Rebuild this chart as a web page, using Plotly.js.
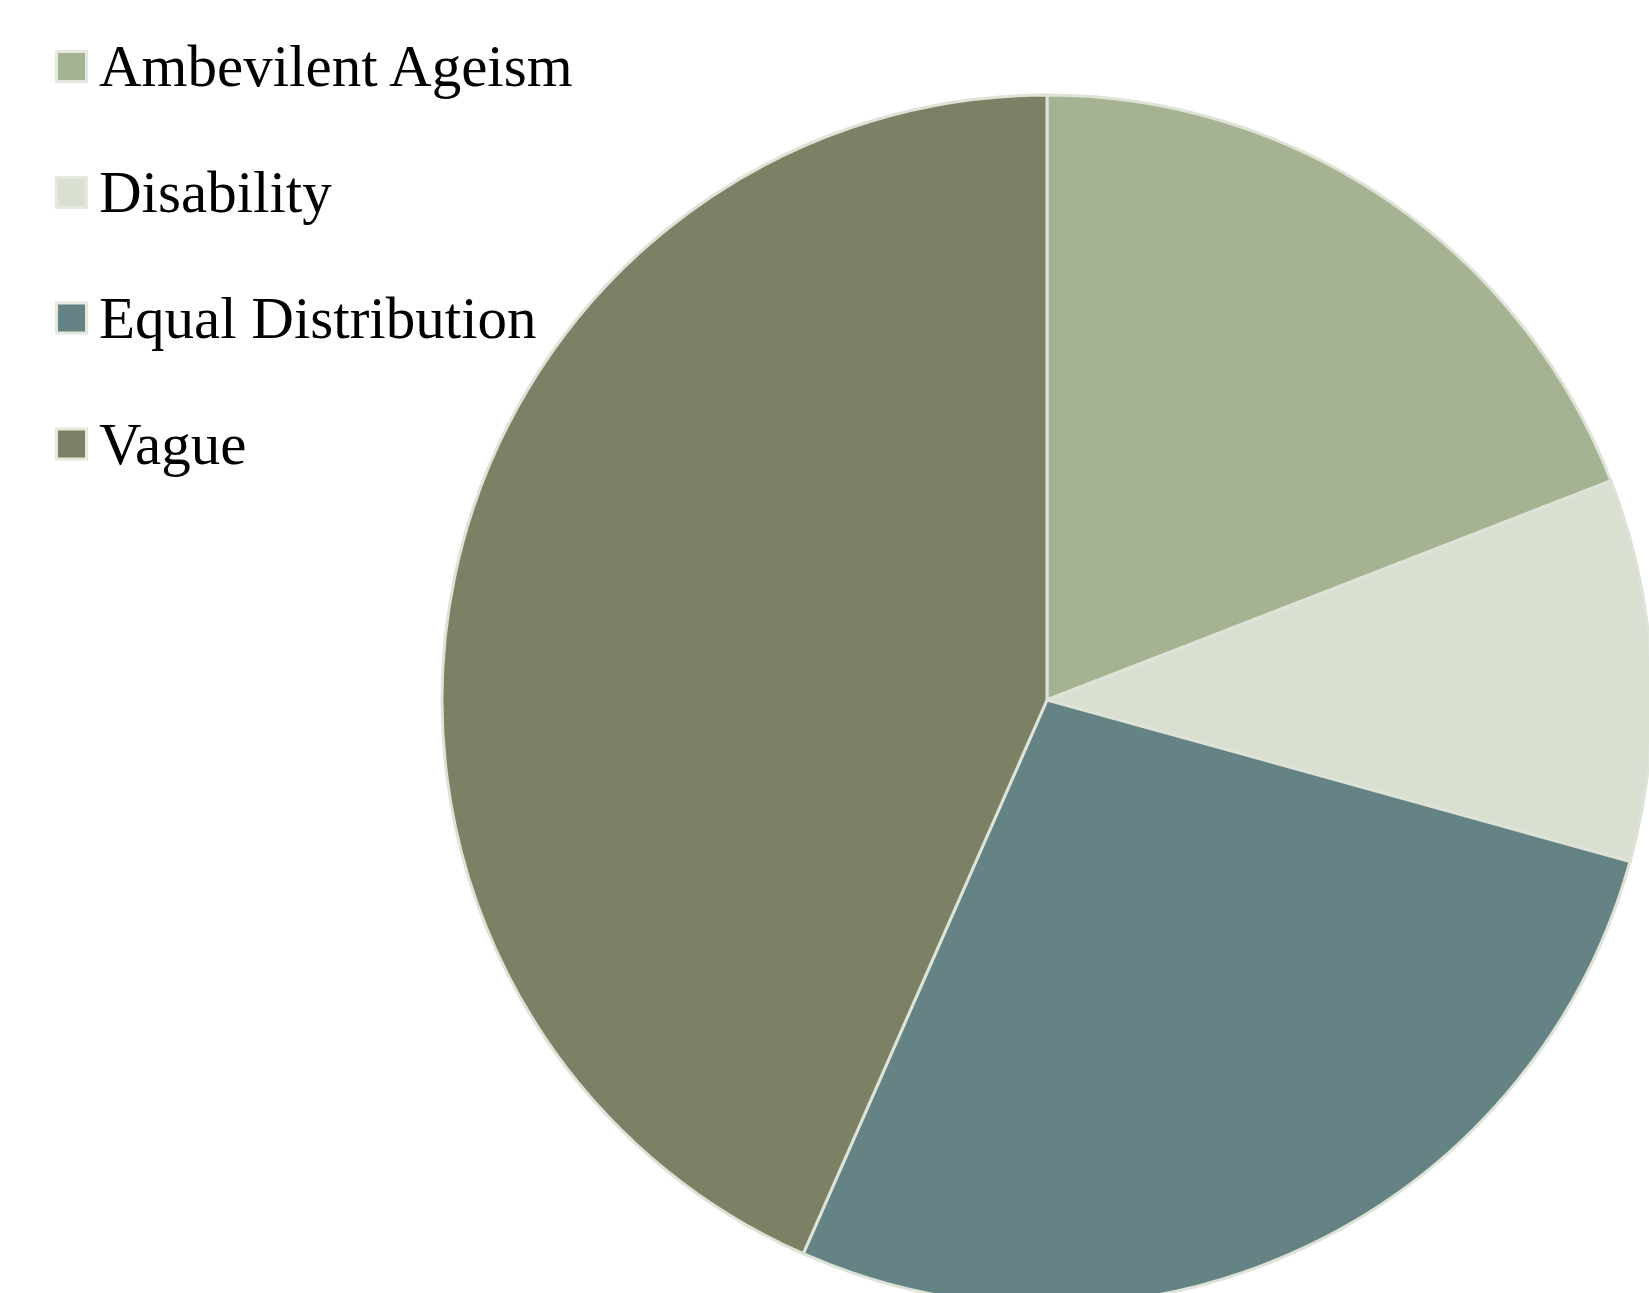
<!DOCTYPE html>
<html>
<head>
<meta charset="utf-8">
<script src="https://cdn.plot.ly/plotly-3.0.1.min.js"></script>
<style>
html,body{margin:0;padding:0;overflow:hidden;background:#fff;}
#chart{width:1700px;height:1400px;}
</style>
</head>
<body>
<div id="chart"></div>
<script>
const labels = ["Ambevilent Ageism", "Disability", "Equal Distribution", "Vague"];
const values = [19.1, 10.2, 27.3, 43.4];
const colors = ["#A6B392", "#D9E0D2", "#658384", "#7C8166"];

const W = 1700, H = 1400;
const cx = 1047, cy = 700, r = 605;

const legendX = 56.5, legendSize = 30, legendTextX = 97;
const legendY = [66.5, 192.5, 318, 444];

const shapes = [];
const annotations = [];
labels.forEach((lab, i) => {
  const y0 = legendY[i] - legendSize / 2;
  shapes.push({
    type: "rect", xref: "paper", yref: "paper",
    x0: legendX / W, x1: (legendX + legendSize) / W,
    y0: 1 - (y0 + legendSize) / H, y1: 1 - y0 / H,
    fillcolor: colors[i],
    line: {color: "#E4E9DE", width: 3}
  });
  annotations.push({
    xref: "paper", yref: "paper",
    x: legendTextX / W, y: 1 - legendY[i] / H,
    xanchor: "left", yanchor: "middle",
    text: lab, showarrow: false,
    font: {family: "Liberation Serif, Times New Roman, serif", size: 59, color: "#000"}
  });
});

const trace = {
  type: "pie",
  labels: labels,
  values: values,
  sort: false,
  direction: "clockwise",
  rotation: 0,
  textinfo: "none",
  hoverinfo: "label+percent",
  marker: {colors: colors, line: {color: "#DDE3D6", width: 3}},
  domain: {
    x: [(cx - r) / W, (cx + r) / W],
    y: [1 - (cy + r) / H, 1 - (cy - r) / H]
  },
  showlegend: false
};

const layout = {
  width: W, height: H,
  margin: {l: 0, r: 0, t: 0, b: 0},
  paper_bgcolor: "#fff",
  plot_bgcolor: "#fff",
  showlegend: false,
  shapes: shapes,
  annotations: annotations
};

Plotly.newPlot("chart", [trace], layout, {displayModeBar: false, staticPlot: true});
</script>
</body>
</html>
